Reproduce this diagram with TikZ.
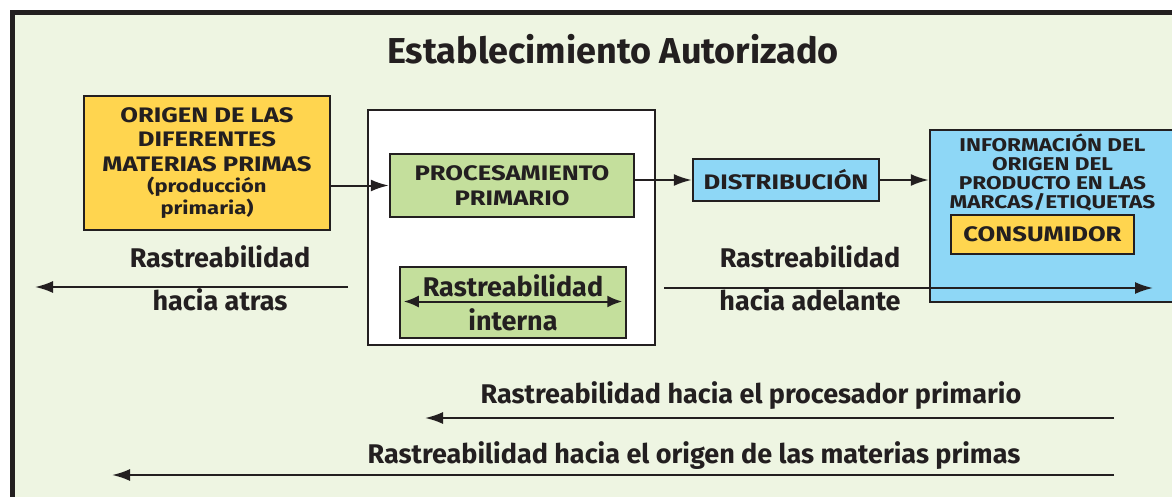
\documentclass[tikz,border=0pt]{standalone}
\usepackage{fontspec}
\setmainfont{Fira Sans}
\newfontfamily\cajafont{Fira Sans}[FakeStretch=1.22]
\usetikzlibrary{positioning, arrows.meta}

\definecolor{fondo}{RGB}{238,245,226}
\definecolor{amarillo}{RGB}{255,213,79}
\definecolor{verde}{RGB}{196,223,156}
\definecolor{azul}{RGB}{142,215,246}
\definecolor{tinta}{RGB}{35,31,32}

\tikzset{
    caja/.style={draw=tinta, line width=2.5pt, align=center, inner sep=0pt, text=tinta,
        font=\cajafont\bfseries\fontsize{21}{24.5}\selectfont},
    flecha/.style={-{Latex[length=18pt, width=12pt]}, line width=2pt, draw=tinta},
    rotulo/.style={anchor=base, text=tinta, font=\bfseries\fontsize{27}{31}\selectfont},
}

\begin{document}
\begin{tikzpicture}[x=1pt, y=-1pt]
    \useasboundingbox (0, 0) rectangle (1172, 496);
    \clip (0, 0) rectangle (1172, 496);
    \draw[line width=5pt, draw=tinta, fill=fondo] (12.5, 12.5) rectangle (1200, 530);

    \node (titulo) at (613, 49) [text=tinta, font=\bfseries\fontsize{36}{40}\selectfont] {Establecimiento Autorizado};

    % cajas
    \node (planta) at (511.5, 227.5) [draw=tinta, line width=2.5pt, fill=white, minimum width=287pt, minimum height=235pt] {};
    \node (origen) at (207, 163) [caja, fill=amarillo, minimum width=246pt, minimum height=134pt] {ORIGEN DE LAS\\DIFERENTES\\MATERIAS PRIMAS\\[-3pt]{\fontsize{18}{20}\selectfont (producción}\\[-3pt]{\fontsize{18}{20}\selectfont primaria)}};
    \node (proc) at (512, 185.5) [caja, fill=verde, minimum width=244pt, minimum height=63pt] {PROCESAMIENTO\\PRIMARIO};
    \node (interna) at (513, 302.5) [caja, fill=verde, minimum width=226pt, minimum height=71pt, font=\bfseries\fontsize{27}{29}\selectfont] {Rastreabilidad\\[5pt]interna};
    \node (distrib) at (786, 180) [caja, fill=azul, minimum width=186pt, minimum height=42pt] {DISTRIBUCIÓN};
    \node (info) at (1052.5, 216) [caja, fill=azul, minimum width=245pt, minimum height=172pt] {};
    \node (infotexto) [below=3pt of info.north, align=center, text=tinta, inner sep=2pt, font=\cajafont\bfseries\fontsize{18.5}{19}\selectfont] {INFORMACIÓN DEL\\ORIGEN DEL\\PRODUCTO EN LAS\\MARCAS/ETIQUETAS};
    \node (consumidor) at (1042.5, 234.5) [caja, fill=amarillo, minimum width=183pt, minimum height=39pt] {CONSUMIDOR};

    \draw [flecha] (origen.east |- proc.west) -- (proc.west);
    \draw [flecha] (proc.east |- distrib.west) -- (distrib.west);
    \draw [flecha] (distrib.east) -- (distrib.east -| info.west);
    \draw [{Latex[length=15pt, width=12pt]}-{Latex[length=15pt, width=12pt]}, line width=2pt, draw=tinta] ([xshift=5pt, yshift=1pt]interna.west) -- ([xshift=-5pt, yshift=1pt]interna.east);

    % rastreabilidad hacia atras / adelante
    \node (atras1) at (220, 267) [rotulo] {Rastreabilidad};
    \node (atras2) at (220, 310) [rotulo] {hacia atras};
    \coordinate (atrasA) at (348, 287);
    \coordinate (atrasB) at (35, 287);
    \draw [flecha] (atrasA) -- (atrasB);

    \node (adelante1) at (810, 267) [rotulo] {Rastreabilidad};
    \node (adelante2) at (810, 310) [rotulo] {hacia adelante};
    \coordinate (adelanteA) at (664, 288);
    \coordinate (adelanteB) at (1153, 288);
    \draw [flecha] (adelanteA) -- (adelanteB);

    % rastreabilidad hacia el origen
    \node (procesador) at (751, 403) [rotulo] {Rastreabilidad hacia el procesador primario};
    \coordinate (procA) at (1114, 418);
    \coordinate (procB) at (425, 418);
    \draw [flecha] (procA) -- (procB);

    \node (materias) at (694, 463) [rotulo] {Rastreabilidad hacia el origen de las materias primas};
    \coordinate (matA) at (1114, 475);
    \coordinate (matB) at (112, 475);
    \draw [flecha] (matA) -- (matB);
\end{tikzpicture}
\end{document}
